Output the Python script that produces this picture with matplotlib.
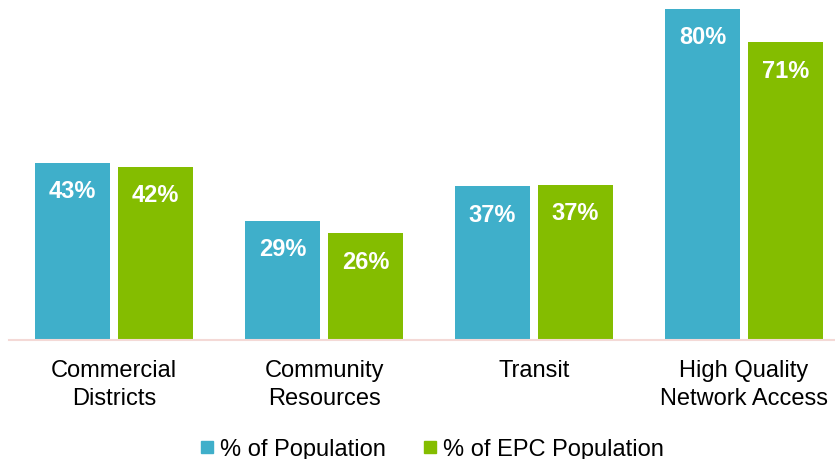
import matplotlib
matplotlib.use("Agg")
import matplotlib.pyplot as plt
from matplotlib.lines import Line2D
import numpy as np

plt.rcParams['font.family'] = ['Liberation Sans', 'DejaVu Sans']

categories = ["Commercial\nDistricts", "Community\nResources", "Transit", "High Quality\nNetwork Access"]
pop_values = [42.8, 28.8, 37.2, 80.0]
epc_values = [41.9, 25.8, 37.5, 71.9]
pop_labels = ["43%", "29%", "37%", "80%"]
epc_labels = ["42%", "26%", "37%", "71%"]
series_names = ["% of Population", "% of EPC Population"]

BLUE = "#3FAFCA"
GREEN = "#84BD00"
AXIS = "#F4D9D6"

W, H = 835, 460
fig = plt.figure(figsize=(W / 100, H / 100), dpi=100)
ax = fig.add_axes([9 / W, 119 / H, (W - 9) / W, 341 / H])

x = np.arange(len(categories))
bw = 75 / 210
off = 41.5 / 210
b1 = ax.bar(x - off, pop_values, width=bw, color=BLUE)
b2 = ax.bar(x + off, epc_values, width=bw, color=GREEN)

for bars, labels in ((b1, pop_labels), (b2, epc_labels)):
    for r, lab in zip(bars, labels):
        ax.annotate(lab, (r.get_x() + r.get_width() / 2, r.get_height()),
                    xytext=(0, -28), textcoords='offset pixels',
                    ha='center', va='center', color='white',
                    fontsize=17, fontweight='bold')

ax.set_xlim(-0.5, 3.5 - 14 / 210)
ax.set_ylim(0, 82.4)
ax.set_yticks([])
for s in ("top", "right", "left"):
    ax.spines[s].set_visible(False)
ax.spines["bottom"].set_color(AXIS)
ax.spines["bottom"].set_linewidth(1.5)
ax.set_xticks(x)
ax.set_xticklabels(categories, fontsize=17, linespacing=1.3)
ax.tick_params(axis='x', length=0, pad=14, colors='black')

handles = [Line2D([], [], marker='s', linestyle='none', markersize=9, color=BLUE),
           Line2D([], [], marker='s', linestyle='none', markersize=9, color=GREEN)]
fig.legend(handles, series_names, loc='center', bbox_to_anchor=(432 / W, 1 - 450 / H),
           ncol=2, frameon=False, fontsize=17, handlelength=0.6, handletextpad=0.25,
           columnspacing=1.6, borderaxespad=0)

fig.savefig("out.png", dpi=100)
